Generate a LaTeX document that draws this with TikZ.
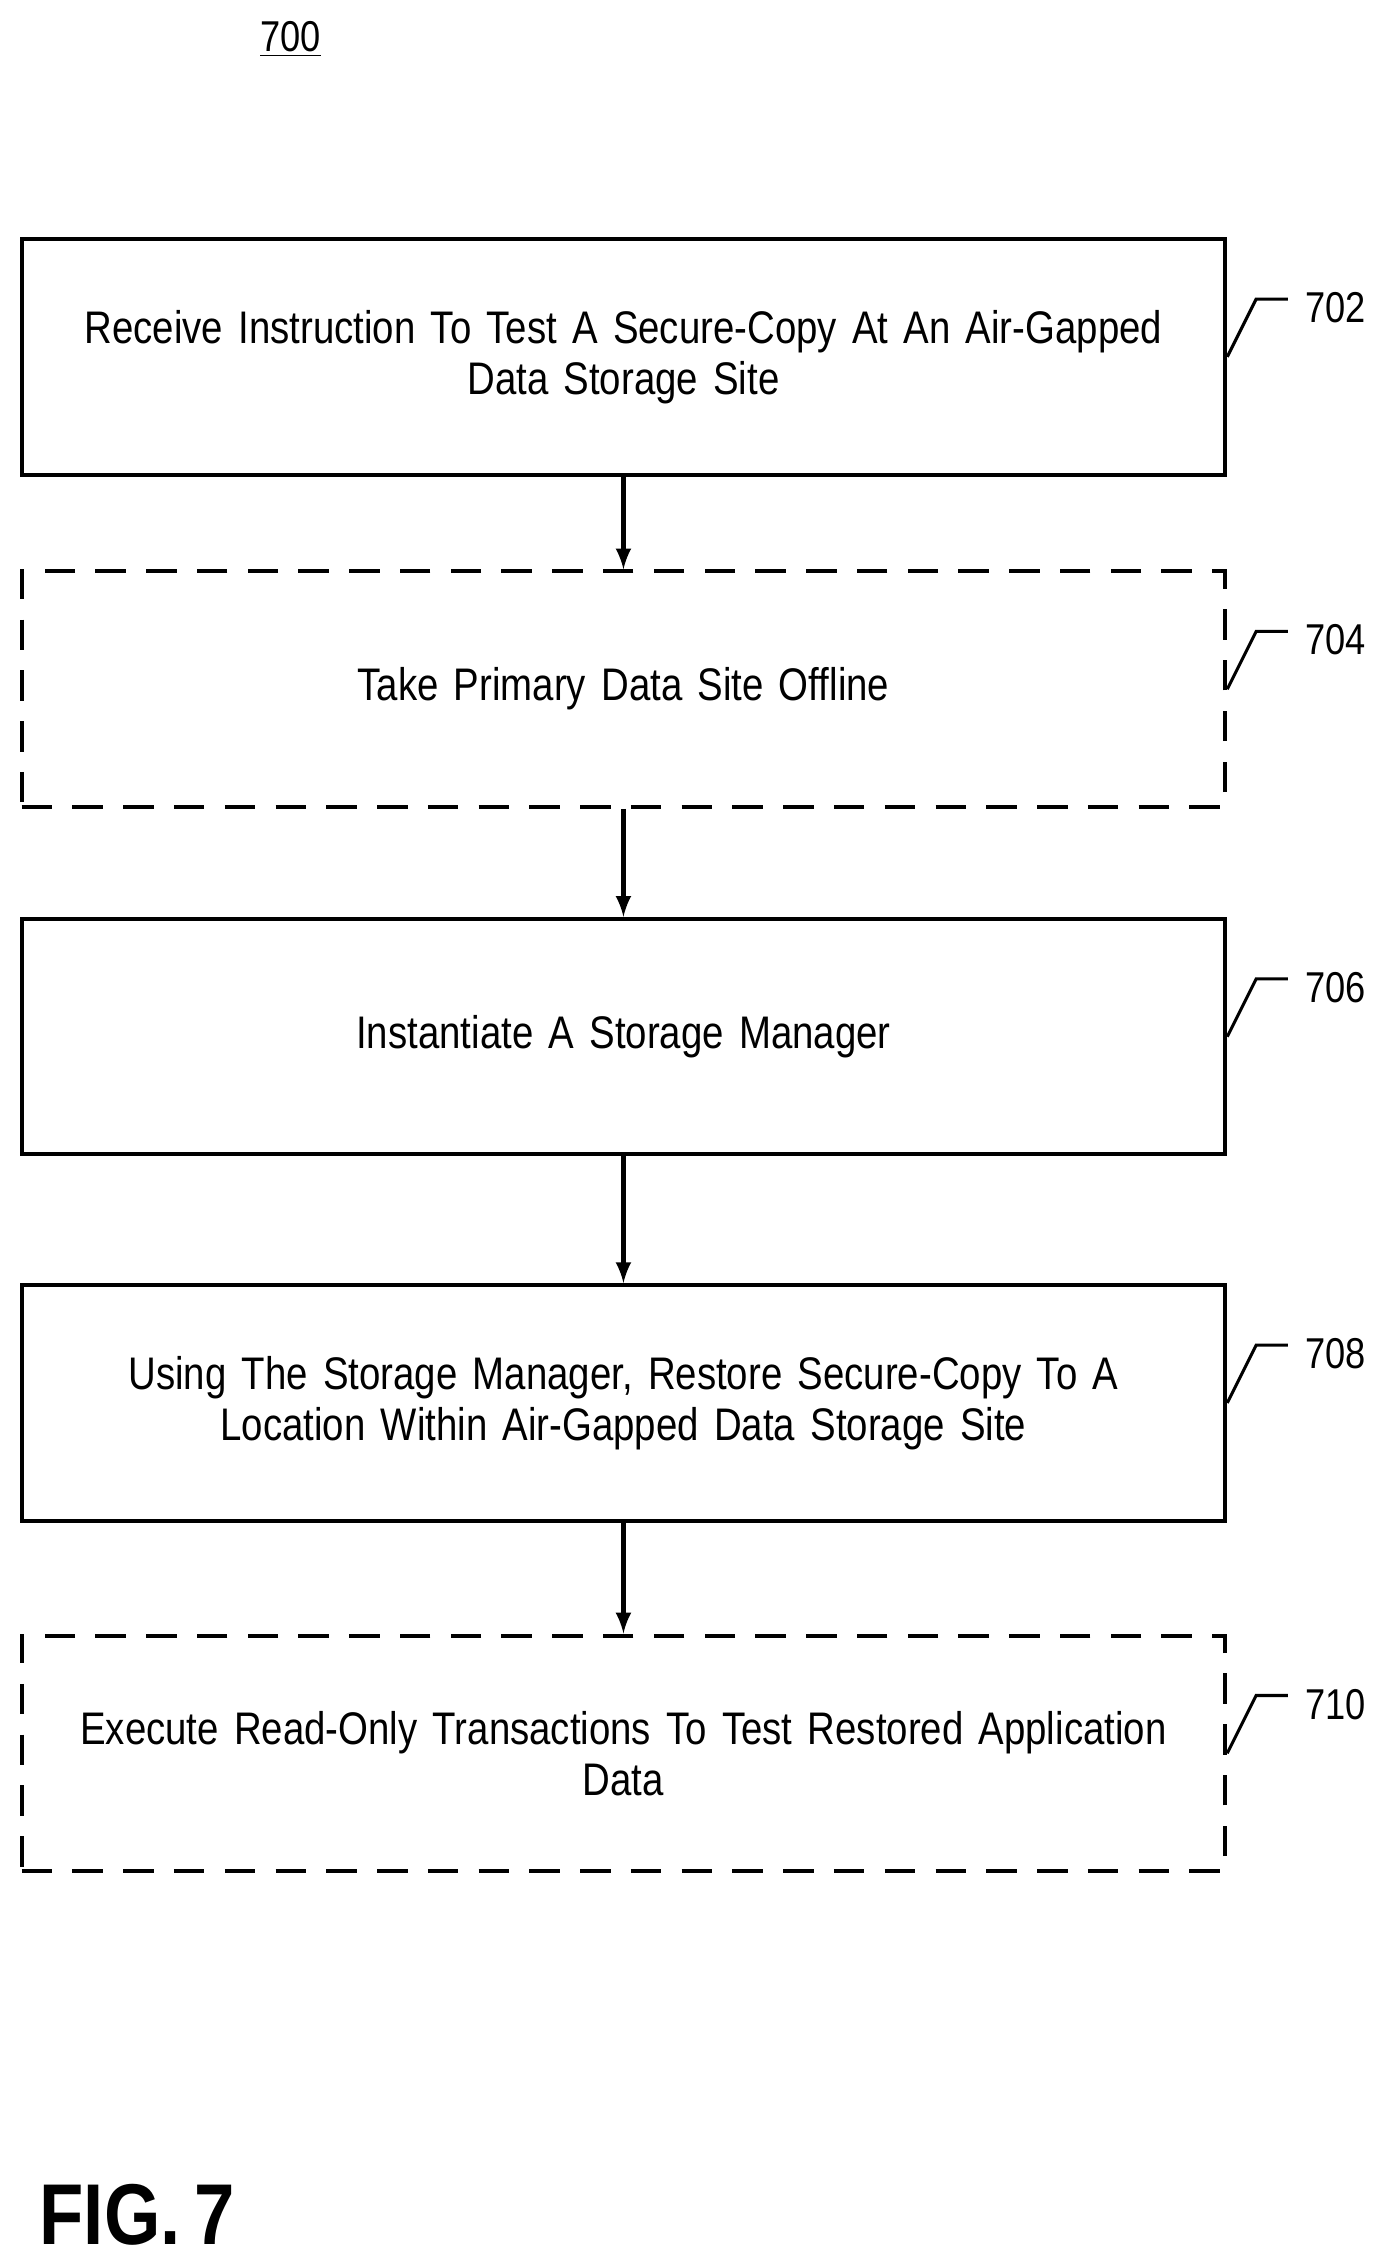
\documentclass[tikz,border=0pt]{standalone}
\usepackage{fontspec}
\setmainfont{Liberation Sans}[FakeStretch=0.84, WordSpace=0.7]
\begin{document}
\begin{tikzpicture}[x=0.02cm,y=-0.02cm,
    stepbox/.style={draw, line width=1.6pt, minimum width=833*0.02cm, minimum height=163*0.02cm,
        align=center, font=\fontsize{18}{20}\selectfont, text width=16.4cm},
    optional/.style={stepbox, dash pattern=on 12pt off 8pt},
    flow/.style={line width=1.8pt, -latex},
    tag/.style={font=\fontsize{17}{20}\selectfont}]
    \useasboundingbox (0,0) rectangle (960,1565.6);
    % figure number
    \node[font=\fontsize{17}{20}\selectfont] (fignum) at (201,27) {\underline{700}};
    % the steps
    \node[stepbox] (s702) at (431.5,247) {Receive Instruction To Test A Secure-Copy At An Air-Gapped\\Data Storage Site};
    \node[optional] (s704) at (431.5,477) {Take Primary Data Site Offline};
    \node[stepbox] (s706) at (431.5,717.5) {Instantiate A Storage Manager};
    \node[stepbox] (s708) at (431.5,971) {Using The Storage Manager, Restore Secure-Copy To A\\Location Within Air-Gapped Data Storage Site};
    \node[optional] (s710) at (431.5,1213.5) {Execute Read-Only Transactions To Test Restored Application\\Data};
    % connectors
    \draw[flow] (s702) -- (s704);
    \draw[flow] (s704) -- (s706);
    \draw[flow] (s706) -- (s708);
    \draw[flow] (s708) -- (s710);
    % reference numerals
    \foreach \s/\n in {s702/702, s704/704, s706/706, s708/708, s710/710} {
        \draw[line width=1.2pt] (\s.east) -- ++(20,-40) -- ++(22,0);
        \node[tag] at ([xshift=75*0.02cm, yshift=34*0.02cm]\s.east) {\n};
    }
    \node[font=\bfseries\fontsize{34}{40}\selectfont] (caption) at (95,1533) {FIG. 7};
\end{tikzpicture}
\end{document}
